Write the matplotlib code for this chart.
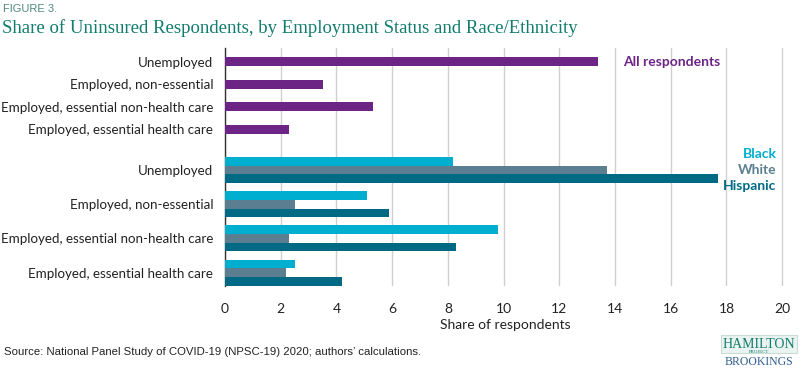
import matplotlib.pyplot as plt
import numpy as np

# Категории (сверху вниз)
categories = ["Unemployed", "Employed, non-essential",
              "Employed, essential non-health care", "Employed, essential health care"]

# Все респонденты, %
all_resp = [13.4, 3.5, 5.3, 2.3]

# По расе/этничности, %
black = [8.2, 5.1, 9.8, 2.5]
white = [13.7, 2.5, 2.3, 2.2]
hispanic = [17.7, 5.9, 8.3, 4.2]

x_ticks = [0, 2, 4, 6, 8, 10, 12, 14, 16, 18, 20]

PURPLE = "#6C2585"
C_BLACK = "#00AECF"
C_WHITE = "#5B7E91"
C_HISP = "#006A85"
TEAL = "#127C6F"

sans = ["Lato", "DejaVu Sans"]

fig = plt.figure(figsize=(8, 3.68), dpi=100)
ax = fig.add_axes([225 / 800, 1 - 286 / 368, 560 / 800, 238 / 368])

# Позиции строк (в пикселях по вертикали)
n = len(categories)
y_top = 61.7 + 22.5 * np.arange(n)
y_low = 170 + 34.2 * np.arange(n)
h = 8.7

ax.barh(y_top, all_resp, height=h, color=PURPLE, zorder=3)
ax.barh(y_low - h, black, height=h, color=C_BLACK, zorder=3)
ax.barh(y_low, white, height=h, color=C_WHITE, zorder=3)
ax.barh(y_low + h, hispanic, height=h, color=C_HISP, zorder=3)

ax.set_ylim(286, 48)
ax.set_xlim(0, 20.1)
ax.set_xticks(x_ticks)
ax.set_xticklabels([str(t) for t in x_ticks], family=sans, fontsize=10, color="#222222")
ax.set_yticks(list(y_top) + list(y_low))
ax.set_yticklabels(categories + categories, family=sans, fontsize=9.6, color="#222222")
ax.tick_params(axis="both", length=0)
ax.tick_params(axis="y", pad=8.5)
ax.tick_params(axis="x", pad=12)
ax.xaxis.grid(True, color="#D0D0D0", linewidth=1, zorder=0)
for s in ["top", "right", "bottom"]:
    ax.spines[s].set_visible(False)
ax.spines["left"].set_color("#333333")
ax.spines["left"].set_linewidth(1)
ax.set_xlabel("Share of respondents", family=sans, fontsize=10, color="#222222", labelpad=3)

# Подписи серий
ax.text(14.3, y_top[0], "All respondents", color=PURPLE, fontsize=10, fontweight="bold",
        family=sans, va="center", ha="left")
ax.text(19.8, y_low[0] - 16, "Black", color=C_BLACK, fontsize=10, fontweight="bold",
        family=sans, va="center", ha="right")
ax.text(19.8, y_low[0], "White", color=C_WHITE, fontsize=10, fontweight="bold",
        family=sans, va="center", ha="right")
ax.text(19.8, y_low[0] + 16, "Hispanic", color=C_HISP, fontsize=10, fontweight="bold",
        family=sans, va="center", ha="right")

# Заголовки
fig.text(3 / 800, 1 - 9 / 368, "FIGURE 3.", family=["Liberation Sans Narrow", "Liberation Sans"],
         fontsize=8, color="#4F8A7E", va="center", ha="left")
fig.text(2 / 800, 1 - 28 / 368, "Share of Uninsured Respondents, by Employment Status and Race/Ethnicity",
         family="Liberation Serif", fontsize=13.5, color=TEAL, va="center", ha="left")

fig.text(4 / 800, 1 - 352 / 368, "Source: National Panel Study of COVID-19 (NPSC-19) 2020; authors\u2019 calculations.",
         family="Liberation Sans", fontsize=8.2, color="#222222", va="center", ha="left")

# Логотип
fig.text(759 / 800, 1 - 337 / 368, "THE", family="Liberation Serif", fontsize=3.5, color=TEAL,
         ha="center", va="center")
fig.text(759 / 800, 1 - 344 / 368, "HAMILTON", family="Liberation Serif", fontsize=10, color=TEAL,
         ha="center", va="center",
         bbox=dict(boxstyle="square,pad=0.15", facecolor="#EAF3EF", edgecolor="#C9DFD6", linewidth=0.8))
fig.text(759 / 800, 1 - 352 / 368, "PROJECT", family="Liberation Serif", fontsize=3.5, color=TEAL,
         ha="center", va="center")
fig.text(759 / 800, 1 - 362 / 368, "BROOKINGS", family="Liberation Serif", fontsize=8.5, color="#2F5F93",
         ha="center", va="center")

fig.savefig("out.png", dpi=100)
